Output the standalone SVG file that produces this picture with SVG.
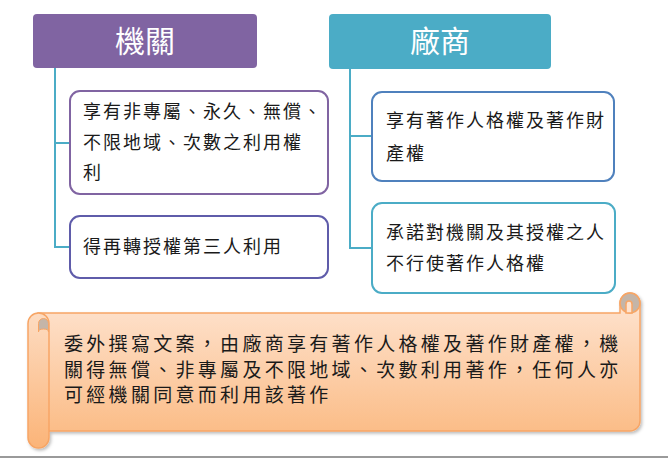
<svg xmlns="http://www.w3.org/2000/svg" width="668" height="459" viewBox="0 0 668 459">
<defs>
<style>
.hdr{font-family:"Noto Sans CJK TC","Noto Sans CJK SC",sans-serif;font-size:30px;fill:#ffffff;text-anchor:middle}
.bt{font-family:"Noto Sans CJK TC","Noto Sans CJK SC",sans-serif;font-size:18px;fill:#1a1a1a;letter-spacing:2px}
.st{font-family:"Noto Sans CJK TC","Noto Sans CJK SC",sans-serif;font-size:19px;fill:#1a1a1a;letter-spacing:3.3px}
.box{fill:#ffffff;stroke-width:2}
.conn{fill:none;stroke:#4BACC6;stroke-width:2}
.scr{stroke:#F7A565;stroke-width:1.5}
</style>
<linearGradient id="gBody" x1="0" y1="0" x2="0" y2="1">
<stop offset="0" stop-color="#FEE5D3"/>
<stop offset="1" stop-color="#FBBD88"/>
</linearGradient>
<linearGradient id="gRoll" x1="0" y1="0" x2="0" y2="1">
<stop offset="0" stop-color="#FDDCC2"/>
<stop offset="1" stop-color="#FBB478"/>
</linearGradient>
<filter id="sh" x="-5%" y="-5%" width="110%" height="115%">
<feDropShadow dx="1.5" dy="2" stdDeviation="1.5" flood-color="#000" flood-opacity="0.25"/>
</filter>
</defs>
<rect width="668" height="459" fill="#ffffff"/>
<line x1="0" y1="457" x2="668" y2="457" stroke="#9a9a9a" stroke-width="2"/>
<g id="connectors">
<path class="conn" d="M55 68 V247 H70 M55 143 H70"/>
<path class="conn" d="M350 69 V248 H372 M350 136 H372"/>
</g>
<g id="node-jiguan">
<rect x="33" y="14" width="224" height="54" rx="4" fill="#8064A2"/>
<text class="hdr" x="145" y="52">機關</text>
</g>
<g id="node-changshang">
<rect x="329" y="14" width="222" height="55" rx="4" fill="#4BACC6"/>
<text class="hdr" x="440" y="52">廠商</text>
</g>
<g id="node-l1">
<rect class="box" x="70" y="91" width="258" height="103" rx="10" stroke="#8064A2"/>
<text class="bt" x="83" y="118">享有非專屬、永久、無償、</text>
<text class="bt" x="83" y="149">不限地域、次數之利用權</text>
<text class="bt" x="83" y="179">利</text>
</g>
<g id="node-l2">
<rect class="box" x="70" y="216" width="258" height="62" rx="10" stroke="#5F5CAA"/>
<text class="bt" x="83" y="253">得再轉授權第三人利用</text>
</g>
<g id="node-r1">
<rect class="box" x="372" y="92" width="242" height="89" rx="10" stroke="#4F81BD"/>
<text class="bt" x="386" y="127">享有著作人格權及著作財</text>
<text class="bt" x="386" y="160">產權</text>
</g>
<g id="node-r2">
<rect class="box" x="372" y="203" width="243" height="90" rx="10" stroke="#4BACC6"/>
<text class="bt" x="386" y="239">承諾對機關及其授權之人</text>
<text class="bt" x="386" y="270">不行使著作人格權</text>
</g>
<g id="node-scroll">
<g filter="url(#sh)">
<path class="scr" fill="url(#gBody)" d="M38 313 H620 V303 A10 10 0 0 1 640 303 V421 A10 10 0 0 1 630 431 H38 Z"/>
<circle class="scr" cx="630" cy="303" r="10" fill="#C4B5A8"/>
<path class="scr" fill="#FEE3CF" d="M626 313 V304 A3 3 0 0 1 632 304 V313 Z"/>
<rect class="scr" x="28" y="313" width="21" height="135" rx="10.5" fill="url(#gRoll)"/>
<path fill="#C4B5A8" stroke="#F7A565" stroke-width="1" d="M38.5 332 V323.5 A5 5 0 0 1 48.5 323.5 V332 A5 3 0 0 0 38.5 332 Z"/>
</g>
<text class="st" x="64" y="350.5">委外撰寫文案，由廠商享有著作人格權及著作財產權，機</text>
<text class="st" x="64" y="377">關得無償、非專屬及不限地域、次數利用著作，任何人亦</text>
<text class="st" x="64" y="402">可經機關同意而利用該著作</text>
</g>
</svg>
